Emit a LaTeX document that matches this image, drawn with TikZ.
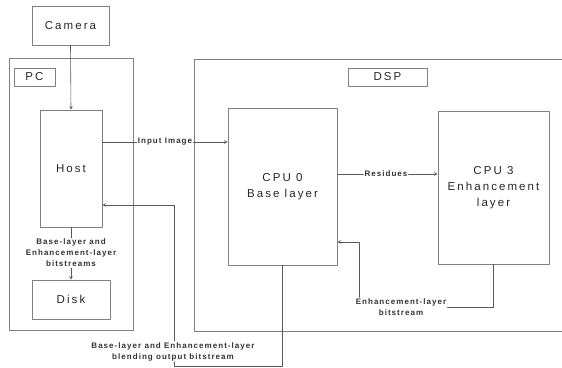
\documentclass[tikz,border=0pt]{standalone}
\usepackage{fontspec}
\setmainfont{Liberation Sans}
\newfontfamily\boxfont[LetterSpace=18]{Liberation Sans}
\newfontfamily\lblfont[LetterSpace=13]{Liberation Sans}

\begin{document}
\begin{tikzpicture}[x=1pt,y=-1pt,>=stealth, line join=round, line cap=round,
	blk/.style={draw=black!50, line width=0.7pt, align=center, inner sep=0pt,
		font=\boxfont\fontsize{11.5}{16}\selectfont, text=black!85},
	lbl/.style={fill=white, align=center, inner sep=1pt,
		font=\lblfont\bfseries\fontsize{8}{11}\selectfont, text=black!80},
	wire/.style={draw=black!65, line width=0.6pt}]
	\useasboundingbox (0,0) rectangle (562,367);
	
	% [Frames - Layer 1]
	\node[blk, minimum width=124pt, minimum height=272pt] (pc) at (71,194) {};
	\draw[draw=black!50, line width=0.7pt] (562,59) -- (194,59) -- (194,331) -- (562,331);
	\node[blk, minimum width=41pt, minimum height=18pt] (pclbl) at (34.5,77) {PC};
	\node[blk, minimum width=79pt, minimum height=18pt] (dsplbl) at (387.5,77) {DSP};
	
	% [Blocks - Layer 2]
	\node[blk, minimum width=77pt, minimum height=39pt] (cam) at (70.5,25.5) {Camera};
	\node[blk, minimum width=62pt, minimum height=117pt] (host) at (71,168.5) {Host};
	\node[blk, minimum width=78pt, minimum height=39pt] (disk) at (71,299.5) {Disk};
	\node[blk, minimum width=109pt, minimum height=157pt] (cpu0) at (282.5,186.5) {CPU 0\\Base layer};
	\node[blk, minimum width=111pt, minimum height=153pt] (cpu3) at (493.5,187.5) {CPU 3\\Enhancement\\layer};
	
	% [Labels - Layer 3]
	\node[lbl] (inlbl) at (165,142) {Input Image};
	\node[lbl] (reslbl) at (386,174) {Residues};
	\node[lbl] (enhlbl) at (401,307) {Enhancement-layer\\bitstream};
	\node[lbl] (blendlbl) at (173,351.5) {Base-layer and Enhancement-layer\\blending output bitstream};
	\node[lbl] (disklbl) at (71,253) {Base-layer and\\Enhancement-layer\\bitstreams};
	
	% [Connectors - Layer 4]
	\coordinate (ebend) at (359,307);
	\coordinate (ein) at (0,242);
	\coordinate (bbend) at (174,366);
	\coordinate (bin) at (0,205);
	\draw[wire,->] (cam.south) -- (host.north);
	\draw[wire] (host.east |- inlbl) -- (inlbl.west);
	\draw[wire,->] (inlbl.east) -- (cpu0.west |- inlbl);
	\draw[wire] (cpu0.east |- reslbl) -- (reslbl.west);
	\draw[wire,->] (reslbl.east) -- (cpu3.west |- reslbl);
	\draw[wire] (cpu3.south) |- (enhlbl.east);
	\draw[wire,->] (ebend |- enhlbl.north) |- (cpu0.east |- ein);
	\draw[wire] (cpu0.south) |- (bbend) -- (bbend |- blendlbl.south);
	\draw[wire,->] (bbend |- blendlbl.north) |- (host.east |- bin);
	\draw[wire] (host.south) -- (disklbl.north);
	\draw[wire,->] (disklbl.south) -- (disk.north);
\end{tikzpicture}
\end{document}
